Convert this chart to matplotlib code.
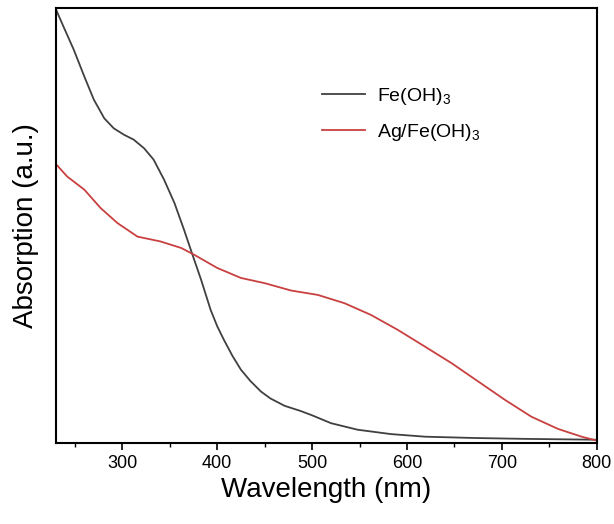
import numpy as np
import matplotlib.pyplot as plt
from matplotlib.ticker import MultipleLocator

plt.rcParams['font.family'] = ['Liberation Sans', 'DejaVu Sans']
plt.rcParams['mathtext.fontset'] = 'custom'
plt.rcParams['mathtext.rm'] = 'Liberation Sans'

# arbitrary absorption units
wl_fe = [230, 238, 249, 260, 270, 281, 291, 302, 312, 323, 333, 344, 355,
         365, 374, 383, 393, 400, 407, 416, 425, 435, 446, 456, 471, 488,
         499, 520, 548, 583, 619, 671, 724, 800]
abs_fe = [0.997, 0.957, 0.903, 0.842, 0.789, 0.746, 0.723, 0.708, 0.697,
          0.677, 0.651, 0.605, 0.551, 0.490, 0.432, 0.375, 0.306, 0.268,
          0.237, 0.200, 0.168, 0.142, 0.118, 0.102, 0.085, 0.073, 0.064,
          0.045, 0.030, 0.020, 0.014, 0.011, 0.009, 0.007]

wl_ag = [230, 242, 260, 277, 295, 316, 340, 362, 376, 400, 425, 450, 478,
         506, 534, 562, 590, 619, 647, 675, 703, 731, 759, 784, 800]
abs_ag = [0.641, 0.612, 0.582, 0.540, 0.505, 0.474, 0.463, 0.448, 0.432,
          0.402, 0.379, 0.367, 0.350, 0.340, 0.321, 0.294, 0.260, 0.221,
          0.183, 0.141, 0.099, 0.060, 0.032, 0.014, 0.005]

fig = plt.figure(figsize=(6.14, 5.24), dpi=100)
ax = fig.add_axes([0.091, 0.155, 0.881, 0.830])

ax.plot(wl_fe, abs_fe, color='#404040', lw=1.3, label=r'Fe(OH)$_3$')
ax.plot(wl_ag, abs_ag, color='#c8403f', lw=1.3, label=r'Ag/Fe(OH)$_3$')

ax.set_xlim(230, 800)
ax.set_ylim(0, 1.0)
ax.xaxis.set_major_locator(MultipleLocator(100))
ax.xaxis.set_minor_locator(MultipleLocator(50))
ax.set_yticks([])
ax.tick_params(axis='x', which='major', direction='out', length=5, width=1.2, labelsize=13)
ax.tick_params(axis='x', which='minor', direction='out', length=3, width=1.0)
for s in ax.spines.values():
    s.set_linewidth(1.5)

ax.set_xlabel('Wavelength (nm)', fontsize=20)
ax.set_ylabel('Absorption (a.u.)', fontsize=20, labelpad=12)

ax.legend(loc='upper left', bbox_to_anchor=(0.46, 0.86), frameon=False,
          fontsize=14, handlelength=2.2, handletextpad=0.6, labelspacing=0.75)

fig.savefig('out.png', dpi=100)
